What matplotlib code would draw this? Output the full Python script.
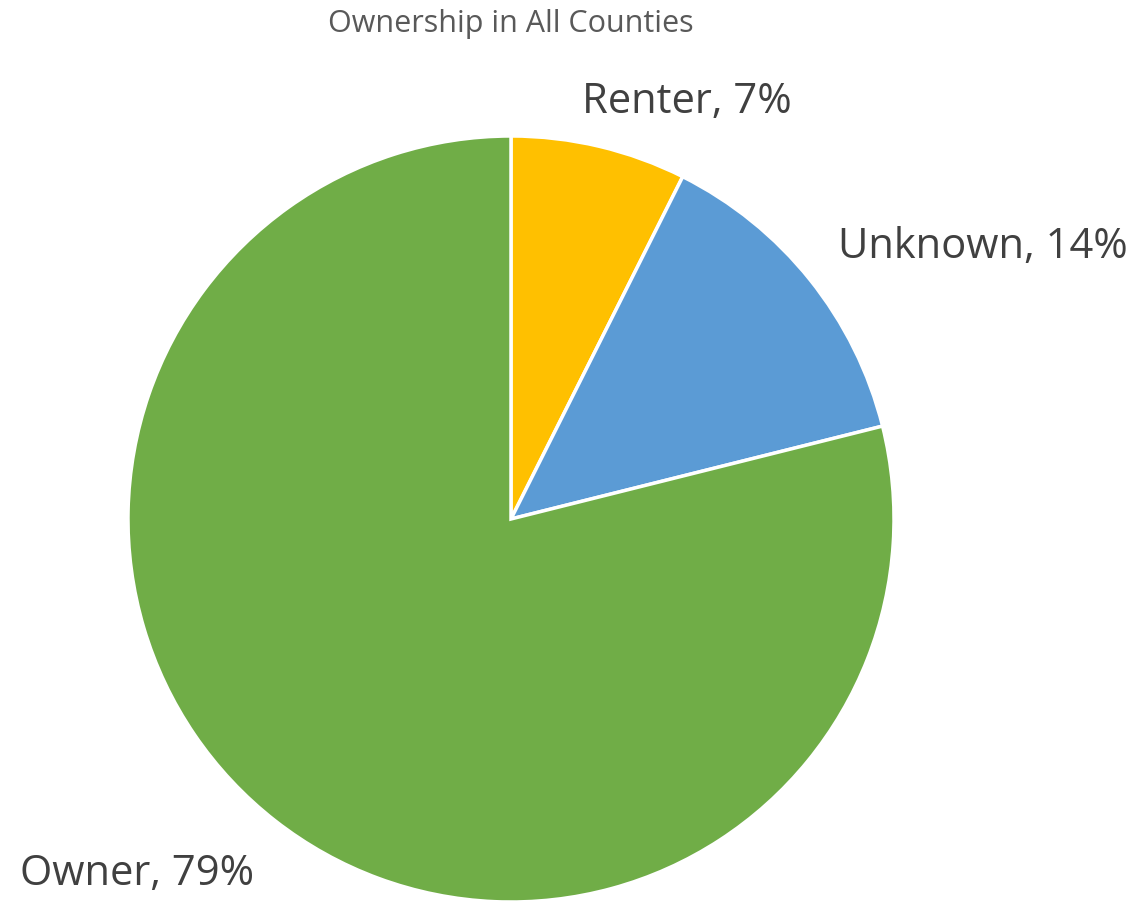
import matplotlib
matplotlib.use("Agg")
import matplotlib.pyplot as plt

# data
labels = ["Renter", "Unknown", "Owner"]
shares = [7.4, 13.7, 78.9]
label_text = ["Renter, 7%", "Unknown, 14%", "Owner, 79%"]
colors = ["#FFC000", "#5B9BD5", "#70AD47"]

W, H = 1135, 901
fig = plt.figure(figsize=(W / 100, H / 100), dpi=100)
plt.rcParams['font.family'] = ['Open Sans', 'DejaVu Sans']

# pie centre and radius in pixels
cx, cy, r = 511, 519, 383
ax = fig.add_axes([(cx - r) / W, (H - cy - r) / H, 2 * r / W, 2 * r / H])
ax.pie(shares, colors=colors, startangle=90, counterclock=False, radius=1,
       wedgeprops=dict(edgecolor="white", linewidth=2.5))
ax.set_xlim(-1, 1)
ax.set_ylim(-1, 1)
ax.set_aspect("equal")
ax.axis("off")

# label positions (left x, centre y) in pixels
label_pos = [(582, 102), (838, 247), (20, 874)]
for txt, (px, py) in zip(label_text, label_pos):
    fig.text(px / W, 1 - py / H, txt, ha="left", va="center",
             fontsize=30, color="#404040")

fig.text(511 / W, 1 - 24 / H, "Ownership in All Counties", ha="center",
         va="center", fontsize=22, color="#595959")

fig.savefig("out.png", dpi=100)
